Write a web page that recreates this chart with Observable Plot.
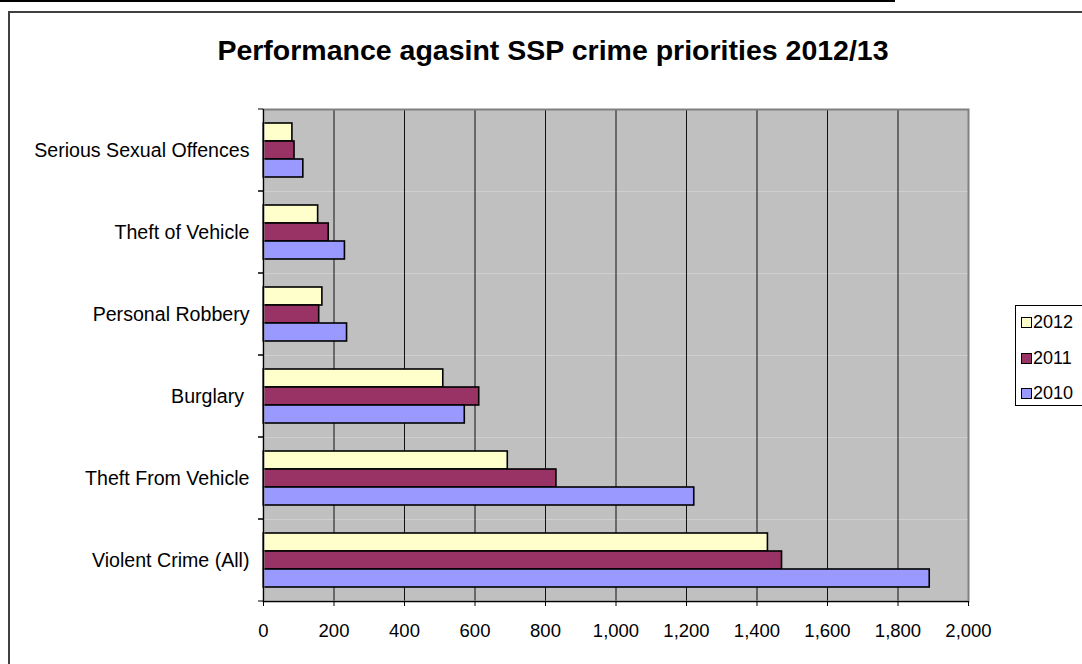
<!DOCTYPE html>
<html>
<head>
<meta charset="utf-8">
<script src="https://cdn.jsdelivr.net/npm/d3@7"></script>
<script src="https://cdn.jsdelivr.net/npm/@observablehq/plot@0.6"></script>
<style>
  html, body { margin: 0; padding: 0; background: #fff; overflow: hidden; }
  #wrap { position: relative; width: 1082px; height: 664px; overflow: hidden; font-family: "Liberation Sans", Arial, sans-serif; color: #000; }
  #topline { position: absolute; left: 0; top: 0; width: 895px; height: 2px; background: #000; }
  #border { position: absolute; left: 8px; top: 11px; width: 1200px; height: 800px; border: 2px solid #404040; box-sizing: border-box; pointer-events: none; }
  #chart { position: absolute; left: 0; top: 0; }
  #title { position: absolute; left: 0; width: 1106px; top: 36px; text-align: center; font-weight: bold; font-size: 28.5px; line-height: 28px; white-space: nowrap; }
  #legend { position: absolute; left: 1015px; top: 305px; width: 140px; height: 101px; border: 1px solid #000; background: #fff; box-sizing: border-box; }
  .lg-row { position: absolute; left: 0; height: 20px; font-size: 18px; line-height: 20px; white-space: nowrap; }
  .lg-sw { position: absolute; left: 5px; top: 5px; width: 9px; height: 9px; border: 1px solid #000; }
  .lg-tx { position: absolute; left: 17px; top: 0; }
</style>
</head>
<body>
<div id="wrap">
  <div id="chart"></div>
  <div id="topline"></div>
  <div id="border"></div>
  <div id="title">Performance agasint SSP crime priorities 2012/13</div>
  <div id="legend"></div>
</div>
<script>
// ---- data ----
const categories = ["Serious Sexual Offences", "Theft of Vehicle", "Personal Robbery", "Burglary ", "Theft From Vehicle", "Violent Crime (All)"];
const years = ["2012", "2011", "2010"];
const values2012 = [82, 155, 167, 510, 693, 1431];
const values2011 = [88, 185, 158, 612, 831, 1471];
const values2010 = [113, 231, 237, 571, 1222, 1890];
const yearColors = ["#FFFFCC", "#993366", "#9999FF"];
const xTicks = [0, 200, 400, 600, 800, 1000, 1200, 1400, 1600, 1800, 2000];
const title = "Performance agasint SSP crime priorities 2012/13";

const seriesValues = {"2012": values2012, "2011": values2011, "2010": values2010};
const rows = [];
categories.forEach((c, i) => {
  years.forEach(y => rows.push({category: c, year: y, value: seriesValues[y][i]}));
});

const padOuter = 0.69;

// boundary tick marks on the category axis (drawn in each facet)
const boundaryTicks = (index, scales) => {
  const r = scales.y.range();
  const top = Math.min(r[0], r[1]);
  const bottom = Math.max(r[0], r[1]);
  const x0 = scales.x(0);
  const g = d3.create("svg:g").attr("stroke", "#000").attr("stroke-width", 1);
  for (const yy of [top, bottom]) {
    g.append("line").attr("x1", x0 - 5).attr("x2", x0).attr("y1", yy).attr("y2", yy);
  }
  return g.node();
};

const plot = Plot.plot({
  width: 1082,
  height: 664,
  marginLeft: 263,
  marginRight: 114,
  marginTop: 107,
  marginBottom: 61,
  style: {fontFamily: "'Liberation Sans', Arial, sans-serif", background: "transparent", color: "#000", overflow: "visible"},
  x: {domain: [0, 2000]},
  y: {domain: years, paddingInner: 0, paddingOuter: padOuter, axis: null},
  fy: {domain: categories, padding: 0},
  color: {domain: years, range: yearColors},
  marks: [
    Plot.frame({fill: "#C0C0C0"}),
    Plot.ruleX(xTicks.slice(1, -1), {stroke: "#111", strokeWidth: 1}),
    Plot.barX(rows, {fy: "category", y: "year", x: "value", fill: "year", stroke: "#000", strokeWidth: 1.6}),
    Plot.frame({stroke: "#808080", strokeWidth: 2, facet: "super"}),
    Plot.ruleX([0], {stroke: "#000", strokeWidth: 1}),
    Plot.frame({anchor: "bottom", stroke: "#000", strokeWidth: 1, facet: "super"}),
    boundaryTicks,
    Plot.axisFy({anchor: "left", label: null, tickSize: 0, tickPadding: 14, fontSize: 19.6, tickFormat: d => d.replace(/ $/, "\u00A0")}),
    Plot.axisX({ticks: xTicks, tickFormat: d3.format(","), tickSize: 5, tickPadding: 17, fontSize: 18.5, label: null})
  ]
});
document.getElementById("chart").appendChild(plot);

// legend
const legend = document.getElementById("legend");
years.forEach((y, i) => {
  const row = document.createElement("div");
  row.className = "lg-row";
  row.style.top = (6 + i * 35.5) + "px";
  const sw = document.createElement("div");
  sw.className = "lg-sw";
  sw.style.background = yearColors[i];
  const tx = document.createElement("div");
  tx.className = "lg-tx";
  tx.textContent = y;
  row.appendChild(sw);
  row.appendChild(tx);
  legend.appendChild(row);
});
</script>
</body>
</html>
